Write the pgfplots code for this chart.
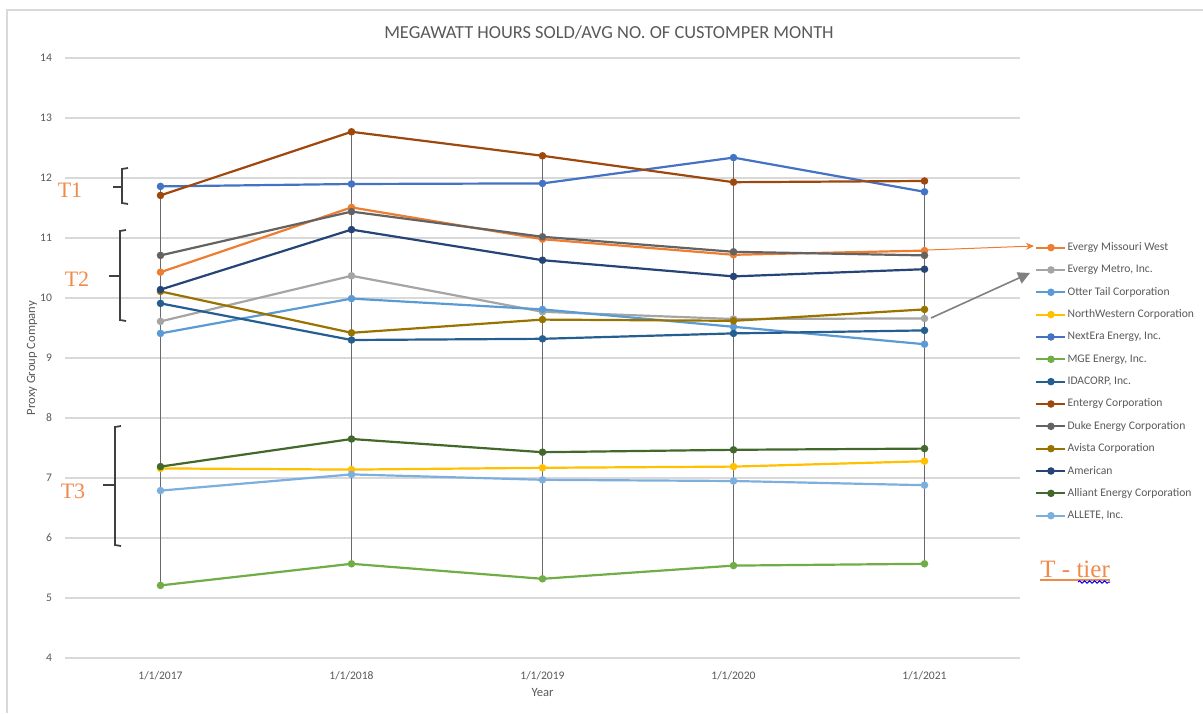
\documentclass[border=0pt]{standalone}
\usepackage{fontspec}
\setmainfont{Carlito}
\newfontfamily\seriffont{Liberation Serif}
\usepackage{pgfplots}
\usepackage{pgfplotstable}
\pgfplotsset{compat=1.18}
\usetikzlibrary{arrows.meta,decorations.pathmorphing}

\definecolor{cEMW}{HTML}{ED7D31}
\definecolor{cEMI}{HTML}{A5A5A5}
\definecolor{cOTC}{HTML}{5B9BD5}
\definecolor{cNWC}{HTML}{FFC000}
\definecolor{cNEE}{HTML}{4472C4}
\definecolor{cMGE}{HTML}{70AD47}
\definecolor{cIDA}{HTML}{255E91}
\definecolor{cETR}{HTML}{9E480E}
\definecolor{cDUK}{HTML}{636363}
\definecolor{cAVA}{HTML}{997300}
\definecolor{cAEP}{HTML}{264478}
\definecolor{cLNT}{HTML}{43682B}
\definecolor{cALE}{HTML}{7CAFDD}
\definecolor{txt}{HTML}{595959}
\definecolor{gridc}{HTML}{D9D9D9}
\definecolor{dropc}{HTML}{6A6A6A}
\definecolor{tcol}{HTML}{F08A4B}
\definecolor{brc}{HTML}{404040}

\pgfplotstableread{
x EMW EMI OTC NWC NEE MGE IDA ETR DUK AVA AEP LNT ALE
0 10.43 9.61 9.41 7.16 11.86 5.21 9.91 11.71 10.71 10.11 10.14 7.19 6.79
1 11.51 10.37 9.99 7.14 11.90 5.57 9.30 12.77 11.44 9.42 11.14 7.65 7.06
2 10.98 9.77 9.81 7.17 11.91 5.32 9.32 12.37 11.02 9.64 10.63 7.43 6.97
3 10.72 9.65 9.52 7.19 12.34 5.54 9.41 11.93 10.77 9.62 10.36 7.47 6.95
4 10.79 9.66 9.23 7.28 11.77 5.57 9.46 11.95 10.71 9.81 10.48 7.49 6.88
}\datatable

\begin{document}
\begin{tikzpicture}
\useasboundingbox (0,0) rectangle (601.5pt,356.5pt);
\begin{axis}[
  at={(32.5pt,27.5pt)}, anchor=south west,
  scale only axis, width=477.5pt, height=300pt,
  xmin=-0.5, xmax=4.5, ymin=4, ymax=14,
  xtick={0,1,2,3,4},
  xticklabels={1/1/2017,1/1/2018,1/1/2019,1/1/2020,1/1/2021},
  ytick={4,5,...,14},
  ymajorgrids, grid style={draw=gridc, line width=0.7pt},
  axis line style={draw=none},
  major tick length=0pt,
  tick label style={font=\fontsize{5.8}{7}\selectfont, text=txt},
  xticklabel style={yshift=-3pt},
  yticklabel style={xshift=-3pt},
  /pgf/number format/assume math mode=true,
  xlabel={Year}, ylabel={Proxy Group Company},
  every axis x label/.style={at={(axis description cs:0.5,-0.0567)}, anchor=center, font=\fontsize{6.3}{8}\selectfont, text=txt},
  every axis y label/.style={at={(axis description cs:-0.0346,0.5)}, rotate=90, anchor=center, font=\fontsize{6.3}{8}\selectfont, text=txt},
  unbounded coords=jump,
  clip=false,
  every axis plot/.append style={line width=1.1pt, mark=*, mark size=1.3pt},
  legend style={at={(axis description cs:1.0094,0.703)}, anchor=north west,
    draw=none, fill=none, font=\fontsize{5.8}{7}\selectfont, text=txt,
    nodes={inner sep=0.5pt, text height=4.5pt, text depth=1.5pt},
    row sep=4.17pt},
  legend cell align=left,
  legend image code/.code={\draw[mark repeat=2,mark phase=2] plot coordinates {(0pt,0pt)(7.25pt,0pt)(14.5pt,0pt)};},
]
\addplot[forget plot, draw=dropc, line width=0.6pt, mark=none] coordinates {
 (0,5.21) (0,11.86) (0,nan)
 (1,5.57) (1,12.77) (1,nan)
 (2,5.32) (2,12.37) (2,nan)
 (3,5.54) (3,12.34) (3,nan)
 (4,5.57) (4,11.95)
};
\addplot[color=cEMW] table[x=x,y=EMW] {\datatable};
\addlegendentry{Evergy Missouri West}
\addplot[color=cEMI] table[x=x,y=EMI] {\datatable};
\addlegendentry{Evergy Metro, Inc.}
\addplot[color=cOTC] table[x=x,y=OTC] {\datatable};
\addlegendentry{Otter Tail Corporation}
\addplot[color=cNWC] table[x=x,y=NWC] {\datatable};
\addlegendentry{NorthWestern Corporation}
\addplot[color=cNEE] table[x=x,y=NEE] {\datatable};
\addlegendentry{NextEra Energy, Inc.}
\addplot[color=cMGE] table[x=x,y=MGE] {\datatable};
\addlegendentry{MGE Energy, Inc.}
\addplot[color=cIDA] table[x=x,y=IDA] {\datatable};
\addlegendentry{IDACORP, Inc.}
\addplot[color=cETR] table[x=x,y=ETR] {\datatable};
\addlegendentry{Entergy Corporation}
\addplot[color=cDUK] table[x=x,y=DUK] {\datatable};
\addlegendentry{Duke Energy Corporation}
\addplot[color=cAVA] table[x=x,y=AVA] {\datatable};
\addlegendentry{Avista Corporation}
\addplot[color=cAEP] table[x=x,y=AEP] {\datatable};
\addlegendentry{American}
\addplot[color=cLNT] table[x=x,y=LNT] {\datatable};
\addlegendentry{Alliant Energy Corporation}
\addplot[color=cALE] table[x=x,y=ALE] {\datatable};
\addlegendentry{ALLETE, Inc.}
\end{axis}
\begin{scope}[shift={(0pt,356.5pt)}, x=0.5pt, y=-0.5pt]
  \draw[gridc, line width=0.6pt] (7,713) -- (7,10) -- (1203,10);
  \node[text=txt, font=\fontsize{9.2}{11}\selectfont] at (609,33) {MEGAWATT HOURS SOLD/AVG NO. OF CUSTOMPER MONTH};
  % tiers
  \node[text=tcol, font=\seriffont\fontsize{11}{13}\selectfont] at (70,190) {T1};
  \node[text=tcol, font=\seriffont\fontsize{11}{13}\selectfont] at (77,279) {T2};
  \node[text=tcol, font=\seriffont\fontsize{11}{13}\selectfont] at (73,491) {T3};
  \draw[brc, line width=0.9pt] (128,168) -- (122,169) -- (122,203) -- (128,204);
  \draw[brc, line width=0.9pt] (113,187) -- (122,187);
  \draw[brc, line width=0.9pt] (126,230) -- (120,231) -- (120,320) -- (126,321);
  \draw[brc, line width=0.9pt] (109,276) -- (120,276);
  \draw[brc, line width=0.9pt] (121,426) -- (115,427) -- (115,545) -- (121,546);
  \draw[brc, line width=0.9pt] (103,485) -- (115,485);
  % arrows
  \draw[cEMW, line width=0.5pt, -{Stealth[length=4pt,width=3.5pt]}] (928,250) -- (1034,246);
  \draw[gray, line width=0.8pt, -{Triangle[length=6pt,width=6pt]}] (931,318) -- (1030,273);
  % T - tier
  \node[anchor=base west, inner sep=0pt, text=tcol, font=\seriffont\fontsize{12.5}{14}\selectfont] at (1040,577) {T - tier};
  \draw[tcol, line width=0.6pt] (1040,580) -- (1110,580);
  \draw[blue, line width=0.5pt, decorate, decoration={snake, amplitude=0.6pt, segment length=2.5pt}] (1078,582) -- (1110,582);
\end{scope}
\end{tikzpicture}
\end{document}
